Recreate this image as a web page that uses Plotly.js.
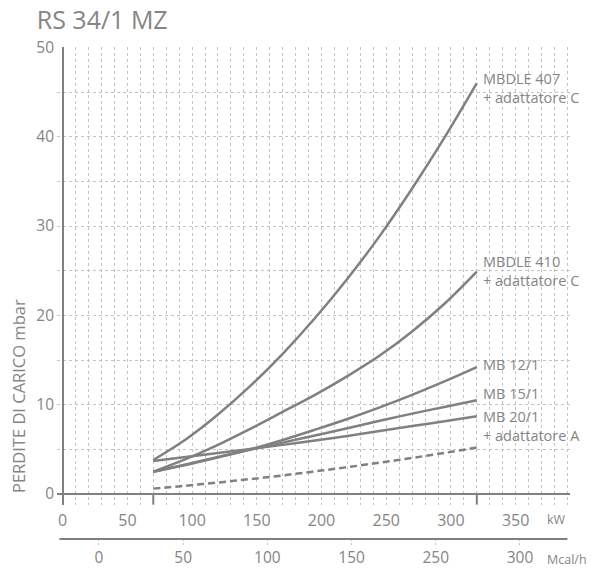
<!DOCTYPE html>
<html>
<head>
<meta charset="utf-8">
<script src="https://cdn.plot.ly/plotly-3.0.1.min.js"></script>
<style>html,body{margin:0;padding:0;background:#fff;}#chart{width:592px;height:568px;}</style>
</head>
<body>
<div id="chart"></div>
<script>
// Data (kW vs pressure loss in mbar)
const kW        = [70, 95, 120, 145, 170, 195, 220, 245, 270, 295, 320];
const mbdle407  = [3.8, 6.1, 8.9, 12.1, 15.7, 19.7, 24.1, 28.9, 34.2, 39.9, 46.0];
const mbdle410  = [2.5, 3.9, 5.5, 7.3, 9.2, 11.1, 13.2, 15.5, 18.2, 21.3, 24.9];
const mb12      = [2.5, 3.25, 4.1, 5.0, 6.05, 7.2, 8.4, 9.7, 11.1, 12.6, 14.2];
const mb15      = [2.5, 3.3, 4.15, 4.95, 5.75, 6.55, 7.35, 8.2, 9.0, 9.75, 10.5];
const mb20      = [3.7, 4.15, 4.6, 5.05, 5.5, 6.0, 6.5, 7.05, 7.6, 8.15, 8.7];
const burner    = [0.6, 0.93, 1.28, 1.67, 2.08, 2.53, 3.0, 3.51, 4.04, 4.6, 5.2];

const seriesNames = ['MBDLE 407<br>+ adattatore C', 'MBDLE 410<br>+ adattatore C', 'MB 12/1', 'MB 15/1', 'MB 20/1<br>+ adattatore A'];
const seriesData  = [mbdle407, mbdle410, mb12, mb15, mb20];
const labelShift  = [-4.5, 0.5, 3, 7, -9.5];

const kWTickVals   = [0, 50, 100, 150, 200, 250, 300, 350];
const yTickVals    = [0, 10, 20, 30, 40, 50];
const mcalTickVals = [0, 50, 100, 150, 200, 250];
const mcalTickText = ['0', '50', '100', '150', '250', '300'];

const LINE = '#808080';
const TXT = '#858585';
const GRID = '#c4c4c4';
const FONT = 'Open Sans, Noto Sans, sans-serif';

const traces = seriesData.map((ys, i) => ({
  x: kW, y: ys, type: 'scatter', mode: 'lines',
  line: {color: LINE, width: 2.5, shape: 'spline', smoothing: 1},
  hoverinfo: 'skip', showlegend: false, xaxis: 'x', yaxis: 'y'
}));
traces.push({
  x: kW, y: burner, type: 'scatter', mode: 'lines',
  line: {color: LINE, width: 2.5, dash: '7px,4px', shape: 'spline', smoothing: 1},
  hoverinfo: 'skip', showlegend: false, xaxis: 'x', yaxis: 'y'
});
// invisible trace to activate the secondary (Mcal/h) axis
traces.push({x: mcalTickVals, y: mcalTickVals.map(() => 0.5), type: 'scatter', mode: 'markers',
  marker: {opacity: 0}, hoverinfo: 'skip', showlegend: false, xaxis: 'x2', yaxis: 'y2'});

const annotations = seriesData.map((ys, i) => ({
  x: kW[kW.length - 1], y: ys[ys.length - 1], xref: 'x', yref: 'y',
  text: seriesNames[i], showarrow: false, xanchor: 'left', yanchor: 'middle',
  xshift: 4, yshift: labelShift[i], align: 'left',
  font: {family: FONT, size: 14.5, color: TXT}
}));
annotations.push({
  xref: 'paper', yref: 'paper', x: -0.076, y: 0.317, xanchor: 'center', yanchor: 'middle',
  text: 'PERDITE DI CARICO mbar', textangle: -90, showarrow: false,
  font: {family: FONT, size: 16.5, color: TXT}
});
annotations.push({
  xref: 'paper', yref: 'paper', x: 0.973, y: 0.075, xanchor: 'center', yanchor: 'middle',
  text: 'kW', showarrow: false, font: {family: FONT, size: 12.5, color: TXT}
});
annotations.push({
  xref: 'paper', yref: 'paper', x: 1.037, y: -0.002, xanchor: 'right', yanchor: 'middle',
  text: 'Mcal/h', showarrow: false, font: {family: FONT, size: 12.5, color: TXT}
});

const shapes = [kW[0], kW[kW.length - 1]].map(v => ({
  type: 'line', xref: 'x', yref: 'y', x0: v, x1: v, y0: 0, y1: -1.2,
  line: {color: LINE, width: 2}
}));
shapes.push({type: 'line', xref: 'x', yref: 'paper', x0: -2.5, x1: 390, y0: 0.0372, y1: 0.0372,
  line: {color: LINE, width: 2}});

const layout = {
  width: 592, height: 568,
  margin: {l: 57, r: 22, t: 47, b: 10},
  paper_bgcolor: '#fff', plot_bgcolor: '#fff',
  font: {family: FONT, color: TXT},
  title: {text: 'RS 34/1 MZ', xref: 'container', yref: 'container', x: 0.062, y: 0.965,
    xanchor: 'left', yanchor: 'middle', font: {family: FONT, size: 25, color: TXT}},
  xaxis: {
    domain: [0, 1], anchor: 'y', range: [-4.4, 392],
    tickvals: kWTickVals, ticks: '', showline: false,
    showgrid: true, gridcolor: GRID, griddash: '3px,3px', gridwidth: 1,
    minor: {dtick: 10, showgrid: true, gridcolor: GRID, griddash: '3px,3px', gridwidth: 1},
    zeroline: true, zerolinecolor: LINE, zerolinewidth: 2,
    tickfont: {family: FONT, size: 16, color: TXT}, ticklabelstandoff: 4, fixedrange: true
  },
  yaxis: {
    domain: [0.1043, 1], anchor: 'x', range: [-1.2, 50.05],
    tickvals: yTickVals, ticks: '', showline: false,
    showgrid: true, gridcolor: GRID, griddash: '3px,3px', gridwidth: 1,
    minor: {dtick: 5, showgrid: true, gridcolor: GRID, griddash: '3px,3px', gridwidth: 1},
    zeroline: true, zerolinecolor: LINE, zerolinewidth: 2,
    tickfont: {family: FONT, size: 15.5, color: TXT}, ticklabelstandoff: 2, fixedrange: true
  },
  xaxis2: {
    domain: [0, 1], anchor: 'y2', range: [-24.9, 279.7],
    tickvals: mcalTickVals, ticktext: mcalTickText, ticks: '', showline: false,
    showgrid: true, gridcolor: GRID, griddash: '2px,2px', gridwidth: 1, zeroline: false,
    tickfont: {family: FONT, size: 15.5, color: TXT}, ticklabelstandoff: 0, fixedrange: true
  },
  yaxis2: {
    domain: [0.0216, 0.0372], anchor: 'x2', range: [0, 1],
    showgrid: false, zeroline: false, showticklabels: false, showline: false, fixedrange: true
  },
  annotations: annotations,
  shapes: shapes,
  showlegend: false
};

Plotly.newPlot('chart', traces, layout, {staticPlot: true, displayModeBar: false});
</script>
</body>
</html>
